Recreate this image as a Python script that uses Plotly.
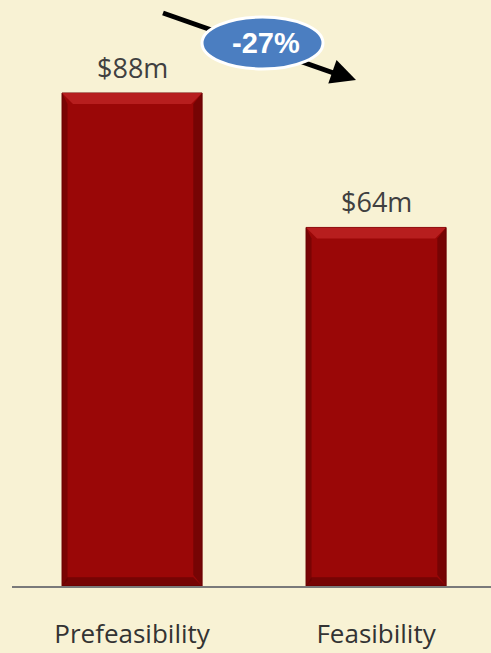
import plotly.graph_objects as go

categories = ["Prefeasibility", "Feasibility"]
values = [88, 64]
value_labels = ["$88m", "$64m"]
change_label = "-27%"

W, H = 491, 653
ML, MR, MT, MB = 12, 0, 0, 67
x_range = [-0.492, 1.471]
y_range = [0, 104.6]
bar_w = 0.574

bg = "#F8F2D4"
xs = list(range(len(categories)))

fig = go.Figure()
fig.add_trace(go.Bar(
    x=xs, y=values, width=bar_w,
    marker=dict(color="#9A0707", line=dict(color="#700303", width=1)),
    hoverinfo="skip",
))

shapes = []
px_x = (x_range[1] - x_range[0]) / (W - ML - MR)
px_y = (y_range[1] - y_range[0]) / (H - MT - MB)
for i, v in zip(xs, values):
    l, r = i - bar_w / 2, i + bar_w / 2
    d = 11 * px_x
    h = 11 * px_y
    # top bevel (lighter)
    shapes.append(dict(type="path", xref="x", yref="y",
        path=f"M{l},{v} L{r},{v} L{r-d},{v-h} L{l+d},{v-h} Z",
        fillcolor="#BC2222", line=dict(width=0), layer="above", opacity=0.85))
    # right bevel (dark)
    shapes.append(dict(type="path", xref="x", yref="y",
        path=f"M{r},{v} L{r},0 L{r-d*0.8},{h} L{r-d*0.8},{v-h} Z",
        fillcolor="#5A0202", line=dict(width=0), layer="above", opacity=0.55))
    # left bevel (dark)
    shapes.append(dict(type="path", xref="x", yref="y",
        path=f"M{l},{v} L{l},0 L{l+d*0.5},{h*0.5} L{l+d*0.5},{v-h} Z",
        fillcolor="#5A0202", line=dict(width=0), layer="above", opacity=0.5))
    # bottom bevel (dark)
    shapes.append(dict(type="path", xref="x", yref="y",
        path=f"M{l},0 L{r},0 L{r-d*0.8},{h*0.8} L{l+d*0.5},{h*0.8} Z",
        fillcolor="#5A0202", line=dict(width=0), layer="above", opacity=0.55))

def pxp(px, py):
    return (px - ML) / (W - ML - MR), 1 - (py - MT) / (H - MT - MB)

# arrow line
x0, y0 = pxp(163, 13)
x1, y1 = pxp(345, 77)
shapes.append(dict(type="line", xref="paper", yref="paper", x0=x0, y0=y0, x1=x1, y1=y1,
                   line=dict(color="black", width=5), layer="above"))
# ellipse
ex0, ey0 = pxp(202, 17)
ex1, ey1 = pxp(323, 69)
shapes.append(dict(type="circle", xref="paper", yref="paper", x0=ex0, y0=ey1, x1=ex1, y1=ey0,
                   fillcolor="#4B7EC1", line=dict(color="white", width=3), layer="above"))

annotations = []
for i, v, t in zip(xs, values, value_labels):
    annotations.append(dict(x=i, y=v, xref="x", yref="y", text=t, showarrow=False,
                            yanchor="bottom", yshift=5,
                            font=dict(family="Open Sans", size=27, color="#404040")))
tx, ty = pxp(356, 80)
annotations.append(dict(x=tx, y=ty, xref="paper", yref="paper", text="", showarrow=True,
                        arrowhead=2, arrowsize=1, arrowwidth=5, arrowcolor="black",
                        ax=-20, ay=-7))
cx, cy = pxp(266, 43)
annotations.append(dict(x=cx, y=cy, xref="paper", yref="paper", text="<b>" + change_label + "</b>",
                        showarrow=False, xanchor="center", yanchor="middle",
                        font=dict(family="Liberation Sans", size=29, color="white")))

fig.update_layout(
    width=W, height=H,
    margin=dict(l=ML, r=MR, t=MT, b=MB),
    paper_bgcolor=bg, plot_bgcolor=bg,
    showlegend=False,
    shapes=shapes, annotations=annotations,
    xaxis=dict(range=x_range, tickmode="array", tickvals=xs, ticktext=categories,
               showgrid=False, zeroline=False, showline=True, linecolor="#7A7A7A", linewidth=1.5,
               ticks="", ticklabelstandoff=24, automargin=False,
               tickfont=dict(family="Open Sans", size=26, color="#333333")),
    yaxis=dict(range=y_range, visible=False, showgrid=False, zeroline=False, automargin=False),
)
fig.write_html("out.html")
